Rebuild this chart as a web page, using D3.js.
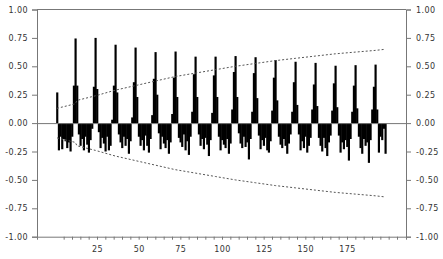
<!DOCTYPE html>
<html>
<head>
<meta charset="utf-8">
<script src="https://cdn.jsdelivr.net/npm/d3@7.9.0/dist/d3.min.js"></script>
<style>
  body { margin: 0; background: #fff; }
  text { font-family: "DejaVu Sans", sans-serif; font-size: 8px; fill: #333; letter-spacing: 0.4px; }
</style>
</head>
<body>
<script>
// autocorrelations, lags 1..198
const acf = [
  0.27, -0.24, -0.12, -0.23, -0.14, -0.16, -0.22, -0.17, -0.25, -0.12, 0.33, 0.745,
  0.33, -0.10, -0.20, -0.14, -0.24, -0.12, -0.19, -0.26, -0.15, -0.05, 0.32, 0.75,
  0.30, -0.08, -0.22, -0.13, -0.18, -0.25, -0.12, -0.24, -0.20, 0.03, 0.33, 0.69,
  0.27, -0.10, -0.17, -0.22, -0.12, -0.20, -0.14, -0.27, -0.16, 0.05, 0.36, 0.665,
  0.23, -0.12, -0.20, -0.15, -0.24, -0.11, -0.20, -0.26, -0.14, 0.07, 0.39, 0.625,
  0.25, -0.09, -0.23, -0.12, -0.18, -0.22, -0.15, -0.27, -0.17, 0.08, 0.40, 0.63,
  0.23, -0.13, -0.17, -0.21, -0.10, -0.24, -0.16, -0.28, -0.12, 0.10, 0.43, 0.585,
  0.23, -0.10, -0.20, -0.14, -0.23, -0.13, -0.19, -0.29, -0.15, 0.09, 0.42, 0.585,
  0.23, -0.12, -0.24, -0.15, -0.19, -0.22, -0.14, -0.27, -0.18, 0.12, 0.45, 0.59,
  0.23, -0.09, -0.18, -0.22, -0.12, -0.21, -0.17, -0.32, -0.14, 0.10, 0.44, 0.58,
  0.22, -0.11, -0.23, -0.15, -0.20, -0.13, -0.24, -0.26, -0.16, 0.11, 0.40, 0.555,
  0.20, -0.12, -0.19, -0.22, -0.14, -0.20, -0.27, -0.18, -0.10, 0.10, 0.36, 0.54,
  0.16, -0.10, -0.24, -0.16, -0.22, -0.12, -0.26, -0.20, -0.13, 0.12, 0.34, 0.53,
  0.15, -0.13, -0.20, -0.25, -0.13, -0.22, -0.29, -0.17, -0.11, 0.11, 0.35, 0.505,
  0.14, -0.11, -0.26, -0.17, -0.23, -0.15, -0.21, -0.33, -0.14, 0.10, 0.33, 0.51,
  0.13, -0.12, -0.22, -0.27, -0.14, -0.20, -0.17, -0.35, -0.15, 0.12, 0.32, 0.515,
  0.12, -0.26, -0.12, -0.15, -0.05, -0.27
];

// confidence band (dashed lines)
const bandLags  = [1, 12, 13, 24, 36, 48, 60, 72, 84, 96, 108, 120, 132, 144, 156, 168, 180, 192, 198];
const bandUpper = [0.13, 0.17, 0.20, 0.24, 0.29, 0.33, 0.37, 0.41, 0.44, 0.47, 0.50, 0.525, 0.55, 0.57, 0.59, 0.61, 0.625, 0.64, 0.65];
const bandLower = [-0.13, -0.17, -0.20, -0.24, -0.29, -0.33, -0.37, -0.41, -0.44, -0.47, -0.50, -0.525, -0.55, -0.57, -0.59, -0.61, -0.625, -0.64, -0.65];

const yTicks = [-1, -0.75, -0.5, -0.25, 0, 0.25, 0.5, 0.75, 1];
const xTickLabels = [25, 50, 75, 100, 125, 150, 175];

const W = 443, H = 259;
const mLeft = 37, mRight = 406, mTop = 9.5, mBottom = 236.7;

const svg = d3.select("body").append("svg")
    .attr("width", W)
    .attr("height", H);

const x = d3.scaleLinear().domain([-11, 210.4]).range([mLeft, mRight]);
const y = d3.scaleLinear().domain([-1, 1]).range([mBottom, mTop]);

const data = acf.map((v, i) => ({ lag: i + 1, v }));

// bars (slightly overlapping so neighbours merge into solid blocks)
svg.append("g")
    .selectAll("rect")
    .data(data)
    .enter().append("rect")
    .attr("x", d => x(d.lag - 0.5))
    .attr("width", x(1) - x(0) + 0.5)
    .attr("y", d => y(Math.max(0, d.v)))
    .attr("height", d => Math.abs(y(d.v) - y(0)))
    .attr("fill", "#000");

// zero line
svg.append("line")
    .attr("x1", mLeft).attr("x2", mRight)
    .attr("y1", y(0) + 0.5).attr("y2", y(0) + 0.5)
    .attr("stroke", "#777").attr("stroke-width", 1);

// bands
const band = d3.line().x(d => x(d[0])).y(d => y(d[1]));
[bandUpper, bandLower].forEach(b => {
    svg.append("path")
        .datum(bandLags.map((l, i) => [l, b[i]]))
        .attr("d", band)
        .attr("fill", "none")
        .attr("stroke", "#555")
        .attr("stroke-width", 1)
        .attr("stroke-dasharray", "2,2");
});

// axes
const axisColor = "#777";
const fmt = d => d3.format(".2f")(d).replace("\u2212", "-");
const yl = svg.append("g")
    .attr("transform", `translate(${mLeft},0)`)
    .call(d3.axisLeft(y).tickValues(yTicks).tickSize(5).tickPadding(4).tickFormat(fmt));
const yr = svg.append("g")
    .attr("transform", `translate(${mRight},0)`)
    .call(d3.axisRight(y).tickValues(yTicks).tickSize(5).tickPadding(5).tickFormat(fmt));
const xb = svg.append("g")
    .attr("transform", `translate(0,${mBottom})`)
    .call(d3.axisBottom(x).tickValues(d3.range(5, 210, 5)).tickSize(3).tickPadding(7)
        .tickFormat(d => xTickLabels.includes(d) ? d : ""));

[yl, yr, xb].forEach(g => {
    g.select(".domain").attr("stroke", axisColor);
    g.selectAll(".tick line").attr("stroke", axisColor);
    g.selectAll("text").attr("font-family", null).attr("font-size", null).attr("fill", null);
});

// top frame
svg.append("line")
    .attr("x1", mLeft).attr("x2", mRight)
    .attr("y1", mTop).attr("y2", mTop)
    .attr("stroke", axisColor);
</script>
</body>
</html>
